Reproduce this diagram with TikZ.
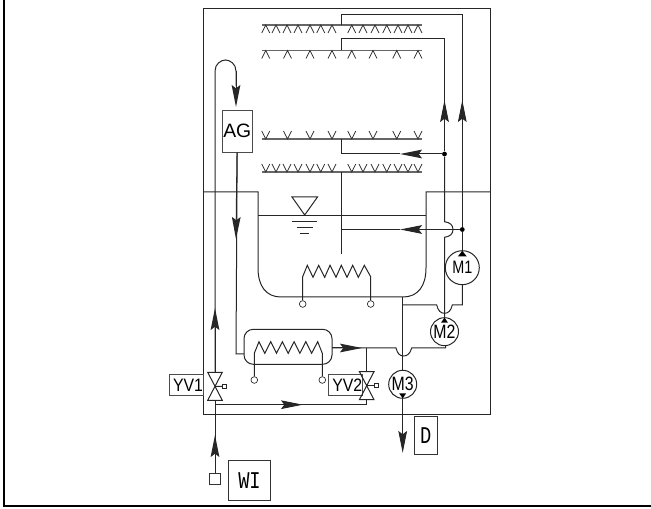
\documentclass[tikz,border=0pt]{standalone}
\usepackage{fontspec}
\setmainfont{Liberation Sans}
\setmonofont{Liberation Mono}
\usetikzlibrary{arrows.meta}
\tikzset{
  pipe/.style={line width=0.75pt,draw=black!85},
  flow/.style={pipe,-{Stealth[length=16.5pt,width=6.5pt,inset=2.5pt]}},
  rail/.style={line width=1.1pt,draw=black!60},
  nozzle/.style={line width=0.6pt,draw=black!80},
  tagbox/.style={draw=black!70,line width=0.6pt,inner sep=0pt,font=\fontsize{12}{12}\selectfont},
  ttbox/.style={draw=black!80,line width=0.7pt,inner sep=0pt,font=\ttfamily},
  motor/.style={circle,draw=black!85,line width=0.75pt,inner sep=0pt},
  pin/.style={circle,draw=black!85,line width=0.5pt,fill=white,inner sep=0pt,minimum size=5pt},
  dotjoin/.style={circle,fill=black,inner sep=0pt,minimum size=3.6pt},
  stemsq/.style={draw=black!85,line width=0.5pt,fill=white,inner sep=0pt,minimum size=3.2pt},
}
\newcommand{\sprayup}[2]{\draw[nozzle](#1-4,#2+8)--(#1,#2)--(#1+4,#2+8);}
\newcommand{\spraydown}[2]{\draw[nozzle](#1-4,#2-8)--(#1,#2)--(#1+4,#2-8);}
\newcommand{\valve}[1]{\draw[pipe](#1)+(-7.3,-14)--+(7.3,14)--+(-7.3,14)--+(7.3,-14)--cycle;}
\newcommand{\narrowtext}[3]{\scalebox{#1}[1]{\fontsize{#2}{#2}\selectfont #3}}
\begin{document}
\begin{tikzpicture}[x=0.75pt,y=-0.75pt]
\useasboundingbox(0,0)rectangle(651,509);
% frame
\draw[line width=1.5pt](4,-2)--(4,506)--(653,506);
% tank
\draw[pipe](203,9)--(490.5,9)--(490.5,415)--(203,415)--cycle;
\draw[pipe](203,192)--(258,192)--(258,268)..controls(258,286)and(266,297)..(281,297)--(403,297)..controls(418,297)and(426,286)..(426,268)--(426,192)--(490.5,192);
\draw[pipe](258,216)--(426,216);
% level mark
\draw[pipe](292,197)--(317.5,197)--(304.7,215)--cycle;
\draw[pipe](291.7,221.3)--(317.3,221.3);
\draw[pipe](296.7,227.3)--(312.7,227.3);
\draw[pipe](300,233.3)--(309.3,233.3);
% spray rails
\draw[rail](262,25)--(422,25);
\draw[rail](262,50.5)--(422,50.5);
\draw[rail](262,139)--(422,139);
\draw[rail](262,172)--(422,172);
\foreach \x in {265.7,276,287,298,310,320.7,332,351.7,363,375,386.7,398,408,418}{\sprayup{\x}{25}}
\foreach \x in {265.7,287.5,310,332,351.7,373,396.7,418}{\sprayup{\x}{50.5}}
\foreach \x in {265.7,287.5,310,332,351.7,373,396.7,418}{\spraydown{\x}{139}}
\foreach \x in {265.7,276,287,298,310,320.7,332,351.7,363,375,386.7,398,408,418}{\spraydown{\x}{172}}
% nodes
\node[tagbox,minimum width=22.5pt,minimum height=31.5pt,font=\fontsize{14.5}{14.5}\selectfont](AG)at(237.3,131.3){AG};
\node[motor,minimum size=25.5pt](M1)at(462.3,267.7){\narrowtext{0.8}{13.5}{M1}};
\node[motor,minimum size=21pt](M2)at(444.5,331.7){\narrowtext{0.82}{14.5}{M2}};
\node[motor,minimum size=21pt](M3)at(402.7,384.3){\narrowtext{0.82}{14.5}{M3}};
\node[tagbox,minimum width=21pt,minimum height=16pt](YV1)at(186,385){\hspace{3pt}\narrowtext{0.88}{13.5}{YV1}};
\node[tagbox,minimum width=20.5pt,minimum height=16pt](YV2)at(345.3,385){\hspace{3pt}\narrowtext{0.88}{13.5}{YV2}};
\node[ttbox,minimum width=17.2pt,minimum height=29.2pt](D)at(425.8,435.5){\narrowtext{0.78}{18}{D}};
\node[ttbox,minimum width=31.2pt,minimum height=29.5pt](WI)at(249.5,480.6){\narrowtext{0.78}{18}{WI}};
\node[draw=black!80,line width=0.6pt,minimum size=8.8pt,inner sep=0pt](inlet)at(215,478.8){};
\coordinate(valveA)at(215,386.3);
\coordinate(valveB)at(366.7,385.7);
\node[stemsq](stemA)at(224.5,386.5){};
\node[stemsq](stemB)at(376.5,385.7){};
\node[dotjoin](dotspray)at(444.5,154){};
\node[dotjoin](dotfeed)at(462.3,229.5){};
\node[pin](pinA)at(302.7,304){};
\node[pin](pinB)at(370.7,304){};
\node[pin](pinC)at(254.3,380){};
\node[pin](pinD)at(322.3,380){};
% motor marks
\fill(462.3,250.8)--(457.8,256.5)--(466.8,256.5)--cycle;
\fill(444.5,317.7)--(441,322.7)--(448,322.7)--cycle;
\fill(402.7,398.3)--(399.2,393.3)--(406.2,393.3)--cycle;
% heating coils
\draw[pipe](pinA)--(302.7,276.7)--(307.3,265.3)--(313,277.3)--(318.7,265.3)--(324.7,277.3)--(330,265.3)--(336,277.3)--(341.3,265.3)--(347,277.3)--(352.7,265.3)--(358.3,277.3)--(364.3,265.3)--(370.7,276.7)--(pinB);
\draw[pipe](pinC)--(254.3,353.3)--(259,341.7)--(264.8,353.3)--(270.7,341.7)--(276.5,353.3)--(282.4,341.7)--(288.2,353.3)--(294.1,341.7)--(299.9,353.3)--(305.8,341.7)--(311.6,353.3)--(317.7,341.7)--(322.3,353.3)--(pinD);
\draw[pipe,rounded corners=7pt](244,329.3)rectangle(332,364.3);
% spray pipes
\draw[pipe](341.5,25)--(341.5,15)--(462.3,15)--(462.3,104);
\draw[pipe](341.5,50.5)--(341.5,38.5)--(444.5,38.5)--(444.5,104);
\draw[flow](dotfeed)--(462.3,100);
\draw[flow](dotspray)--(444.5,100);
\draw[pipe](341.5,139)--(341.5,154)--(400,154);
\draw[flow](dotspray)--(400,154);
\draw[pipe](341.5,172)--(341.5,254);
% feed to tank
\draw[pipe](341.5,229.5)--(400,229.5);
\draw[flow](dotfeed)--(400,229.5);
\draw[pipe](dotfeed)--(M1);
\draw[pipe](dotspray)--(444.5,221.7)..controls(450,222.5)and(453,225)..(453,229.5)..controls(453,234)and(450,236.5)..(444.5,237.3)--(M2);
% pump suction
\draw[pipe](M1)--(462.3,305)--(452.3,305)..controls(451,311)and(448,313.3)..(444.5,313.3)..controls(441,313.3)and(438,311)..(436.7,305)--(402.7,305);
\draw[pipe](402.7,297)--(M3);
\draw[pipe](M2)--(445.7,348)--(411.7,348)..controls(410,354)and(407,356)..(403.7,356)..controls(400,356)and(397.5,354)..(396,348)--(332,348);
\draw[flow](332,348)--(362,348);
\draw[flow](M3)--(402.7,453);
% overflow and makeup
\draw[pipe](215,453)--(215,400.3);
\draw[flow](inlet)--(215,435);
\draw[pipe](valveA)++(0,-14)--(215,71)..controls(215,64)and(221,60)..(225.5,60)..controls(230,60)and(236,64)..(236,71)--(236,86);
\draw[flow](236,71)--(236,107);
\draw[flow](215,372)--(215,308);
\draw[pipe](AG)--(236,354)--(244,354);
\draw[flow](AG)--(236,239);
\draw[pipe](215,404.7)--(366.7,404.7)--(366.7,399.7);
\draw[flow](215,404.7)--(303,404.7);
\draw[pipe](366.7,371.7)--(366.7,348);
% valves
\valve{valveA}
\valve{valveB}
\draw[pipe](valveA)--(stemA);
\draw[pipe](valveB)--(stemB);
\end{tikzpicture}
\end{document}
